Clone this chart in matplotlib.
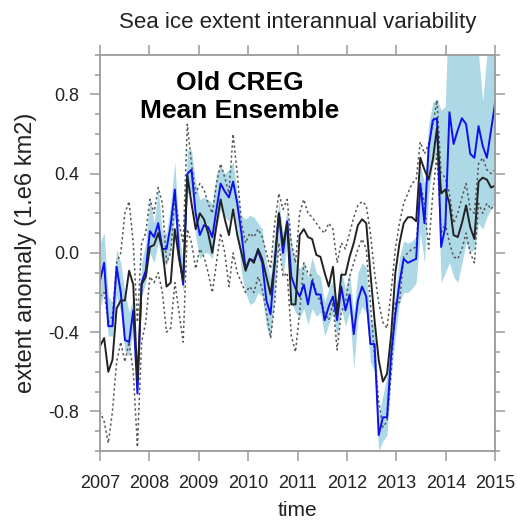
import numpy as np
import matplotlib
matplotlib.use('Agg')
import matplotlib.pyplot as plt
from matplotlib.ticker import MultipleLocator

plt.rcParams['font.family'] = ['Liberation Sans', 'DejaVu Sans']

# monthly anomalies, Jan 2007 .. Dec 2014 (1.e6 km2)
obs = [-0.47, -0.43, -0.60, -0.54, -0.28, -0.24, -0.24, -0.09, -0.16, -0.65, -0.16, -0.12,
       0.03, 0.04, 0.10, 0.02, -0.17, -0.15, 0.12, -0.03, -0.14, 0.39, 0.25, 0.12,
       0.20, 0.17, 0.10, 0.00, 0.14, 0.27, 0.17, 0.09, 0.22, 0.09, 0.00, -0.09,
       -0.03, -0.05, 0.02, -0.03, -0.12, -0.21, -0.05, 0.20, 0.04, 0.15, -0.26, -0.26,
       0.09, 0.12, 0.08, 0.07, -0.01, -0.02, -0.10, -0.17, -0.07, -0.31, -0.11, -0.11,
       -0.02, 0.05, 0.14, 0.17, 0.15, -0.10, -0.34, -0.54, -0.65, -0.61, -0.41, -0.10,
       0.05, 0.15, 0.18, 0.18, 0.16, 0.48, 0.42, 0.37, 0.47, 0.63, 0.30, 0.32,
       0.25, 0.09, 0.08, 0.15, 0.24, 0.13, 0.07, 0.36, 0.38, 0.37, 0.33, 0.34]

ens_mean = [-0.14, -0.05, -0.37, -0.37, -0.07, -0.20, -0.44, -0.45, -0.29, -0.71, -0.15, -0.09,
            0.11, 0.08, 0.15, 0.02, 0.02, 0.14, 0.32, 0.00, -0.16, 0.40, 0.42, 0.20,
            0.09, 0.14, 0.13, 0.08, 0.22, 0.35, 0.31, 0.28, 0.36, 0.25, 0.10, -0.08,
            -0.03, -0.04, 0.01, -0.05, -0.24, -0.31, -0.05, 0.20, 0.00, 0.16, -0.12, -0.18,
            -0.22, -0.16, -0.26, -0.14, -0.21, -0.21, -0.34, -0.27, -0.22, -0.34, -0.17, -0.29,
            -0.21, -0.41, -0.24, -0.17, -0.22, -0.46, -0.46, -0.92, -0.83, -0.83, -0.51, -0.31,
            -0.15, -0.03, -0.05, -0.04, -0.03, 0.35, 0.15, 0.53, 0.67, 0.68, 0.03, 0.13,
            0.71, 0.55, 0.62, 0.68, 0.65, 0.50, 0.48, 0.64, 0.54, 0.48, 0.62, 0.76]

ens_hi = [0.05, 0.10, -0.22, -0.25, 0.02, -0.05, -0.20, -0.30, -0.22, -0.60, -0.05, 0.05,
          0.28, 0.15, 0.32, 0.10, 0.10, 0.25, 0.46, 0.10, -0.05, 0.52, 0.52, 0.35,
          0.27, 0.28, 0.27, 0.25, 0.40, 0.44, 0.40, 0.42, 0.46, 0.30, 0.19, 0.17,
          0.19, 0.18, 0.15, 0.12, -0.05, -0.12, 0.10, 0.26, 0.10, 0.22, 0.05, -0.05,
          -0.08, -0.05, -0.12, -0.02, -0.10, -0.12, -0.25, -0.18, -0.14, -0.25, -0.08, -0.18,
          -0.10, -0.30, -0.10, -0.05, -0.07, -0.35, -0.35, -0.82, -0.72, -0.62, -0.38, -0.20,
          -0.02, 0.06, 0.05, 0.06, 0.08, 0.45, 0.35, 0.65, 0.76, 0.78, 0.72, 0.74,
          1.40, 1.40, 1.40, 1.40, 1.40, 1.40, 1.40, 1.00, 0.765, 1.00, 1.40, 1.40]

ens_lo = [-0.28, -0.20, -0.42, -0.42, -0.22, -0.30, -0.50, -0.52, -0.38, -0.73, -0.22, -0.15,
          0.00, -0.05, 0.05, -0.05, -0.06, 0.02, 0.18, -0.06, -0.20, 0.30, 0.30, 0.08,
          -0.03, 0.00, 0.00, -0.03, 0.12, 0.22, 0.18, 0.16, 0.24, 0.12, -0.10, -0.20,
          -0.26, -0.25, -0.20, -0.22, -0.37, -0.44, -0.20, 0.07, -0.12, 0.05, -0.25, -0.30,
          -0.33, -0.28, -0.36, -0.28, -0.32, -0.30, -0.42, -0.36, -0.30, -0.43, -0.28, -0.37,
          -0.30, -0.58, -0.33, -0.27, -0.30, -0.55, -0.60, -1.00, -0.95, -0.92, -0.62, -0.42,
          -0.25, -0.20, -0.20, -0.18, -0.15, 0.10, -0.05, 0.30, 0.45, 0.50, -0.15, -0.10,
          -0.05, -0.12, -0.15, -0.05, 0.05, 0.00, 0.02, 0.15, 0.12, 0.18, 0.22, 0.25]

obs_hi = [-0.22, -0.20, -0.35, -0.32, -0.05, 0.00, 0.20, 0.26, 0.05, -0.35, 0.05, 0.10,
          0.27, 0.20, 0.33, 0.25, -0.05, 0.00, 0.28, 0.15, 0.05, 0.65, 0.45, 0.30,
          0.35, 0.32, 0.25, 0.20, 0.35, 0.45, 0.38, 0.30, 0.60, 0.40, 0.15, 0.05,
          0.10, 0.08, 0.12, 0.08, 0.00, -0.08, 0.15, 0.30, 0.22, 0.27, 0.05, -0.05,
          0.20, 0.27, 0.20, 0.18, 0.15, 0.12, 0.10, 0.15, 0.12, -0.05, 0.05, 0.02,
          0.10, 0.18, 0.24, 0.26, 0.24, 0.10, -0.10, -0.25, -0.35, -0.38, -0.19, 0.02,
          0.15, 0.25, 0.30, 0.35, 0.37, 0.56, 0.50, 0.55, 0.65, 0.77, 0.40, 0.38,
          0.30, 0.15, 0.20, 0.28, 0.35, 0.22, 0.20, 0.45, 0.48, 0.42, 0.40, 0.42]

obs_lo = [-0.80, -0.85, -0.96, -0.80, -0.55, -0.45, -0.55, -0.45, -0.60, -0.98, -0.45, -0.35,
          -0.12, -0.15, -0.10, -0.20, -0.40, -0.38, -0.15, -0.30, -0.45, 0.12, 0.05, -0.08,
          0.02, -0.02, -0.10, -0.20, -0.05, 0.10, 0.00, -0.17, 0.00, -0.10, -0.15, -0.20,
          -0.17, -0.20, -0.12, -0.18, -0.30, -0.43, -0.25, 0.05, -0.12, -0.10, -0.42, -0.50,
          -0.30, -0.05, -0.10, -0.12, -0.20, -0.25, -0.30, -0.34, -0.25, -0.49, -0.30, -0.25,
          -0.12, -0.05, 0.02, 0.07, 0.02, -0.25, -0.52, -0.75, -0.88, -0.85, -0.60, -0.25,
          -0.25, -0.02, 0.00, 0.02, 0.03, 0.35, 0.25, 0.02, 0.30, 0.50, 0.10, 0.15,
          0.05, -0.02, -0.03, 0.02, 0.10, 0.00, -0.05, 0.25, 0.20, 0.25, 0.22, 0.25]

years = [2007, 2008, 2009, 2010, 2011, 2012, 2013, 2014, 2015]
yticks = [-0.8, -0.4, 0.0, 0.4, 0.8]

t = np.linspace(2007, 2015, len(obs))

fig = plt.figure(figsize=(5.18, 5.22), dpi=100)
ax = fig.add_axes([0.193, 0.136, 0.763, 0.759])

# ensemble spread
ax.fill_between(t, ens_lo, ens_hi, color='#add8e6', lw=0)
# observation spread (dotted)
ax.plot(t, obs_hi, color='#555555', ls=(0, (1.5, 1.8)), lw=1.1)
ax.plot(t, obs_lo, color='#555555', ls=(0, (1.5, 1.8)), lw=1.1)
# ensemble mean and observed
ax.plot(t, ens_mean, color='#1010ee', lw=1.4)
ax.plot(t, obs, color='#222222', lw=1.4)

ax.set_xlim(2007, 2015)
ax.set_ylim(-1, 1)
ax.set_xticks(years)
ax.set_xticklabels([str(y) for y in years])
ax.set_yticks(yticks)
ax.set_yticklabels(['%.1f' % v for v in yticks])
ax.yaxis.set_minor_locator(MultipleLocator(0.1))

gray = '#9a9a9a'
for s in ax.spines.values():
    s.set_color(gray)
    s.set_linewidth(1.3)
ax.tick_params(which='both', direction='out', color=gray, width=1.1,
               top=True, right=True, labelsize=13, labelcolor='#222222')
ax.tick_params(which='major', length=7)
ax.tick_params(which='minor', length=3.5)
ax.tick_params(axis='x', pad=10)
ax.tick_params(axis='y', pad=8)

ax.set_xlabel('time', fontsize=15, color='#222222', labelpad=7)
ax.set_ylabel('extent anomaly (1.e6 km2)', fontsize=17, color='#222222', labelpad=8)
ax.set_title('Sea ice extent interannual variability', fontsize=16,
             color='#222222', pad=19)

ax.text(0.354, 0.894, 'Old CREG\nMean Ensemble', transform=ax.transAxes,
        ha='center', va='center', fontsize=19, fontweight='bold',
        linespacing=1.2, color='black')

fig.savefig('out.png', dpi=100)
